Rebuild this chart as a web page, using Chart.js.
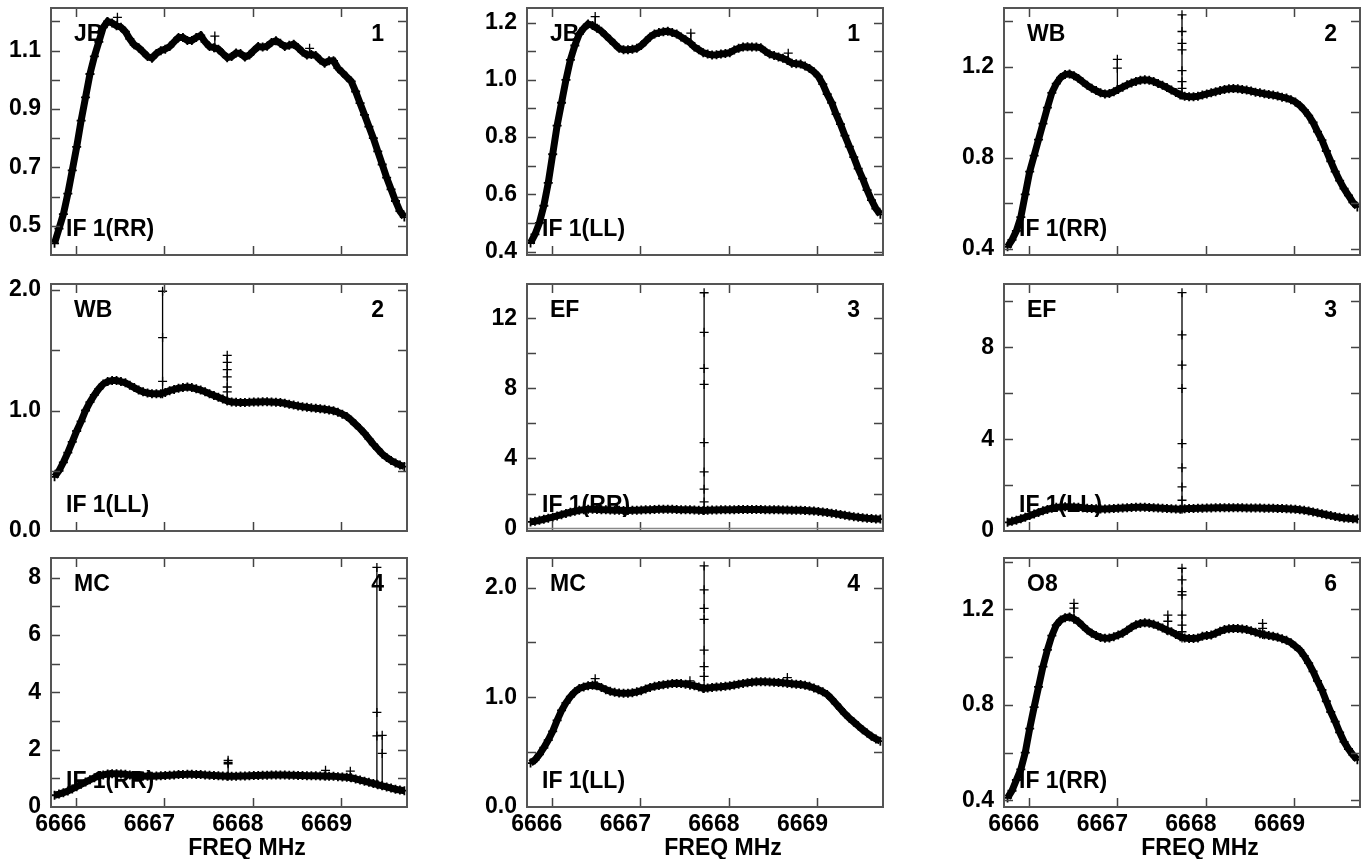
<!DOCTYPE html>
<html lang="en">
<head>
<meta charset="UTF-8" />
<title>POSSM bandpass plots</title>
<script src="https://cdn.jsdelivr.net/npm/chart.js@4.4.1/dist/chart.umd.min.js"></script>
<style>
  body { margin: 0; background: #fff; overflow: hidden; width: 1372px; height: 862px; position: relative; }
  canvas { position: absolute; }
</style>
</head>
<body>
<script>
// channel frequencies, MHz
const freqs = [
  6665.76, 6665.81, 6665.86, 6665.91, 6665.96,
  6666.01, 6666.06, 6666.11, 6666.16, 6666.21, 6666.26, 6666.31, 6666.36, 6666.41, 6666.46,
  6666.51, 6666.56, 6666.61, 6666.66, 6666.71, 6666.76, 6666.81, 6666.86, 6666.91, 6666.96,
  6667.01, 6667.06, 6667.11, 6667.16, 6667.21, 6667.26, 6667.31, 6667.36, 6667.41, 6667.46,
  6667.51, 6667.56, 6667.61, 6667.66, 6667.71, 6667.76, 6667.81, 6667.86, 6667.91, 6667.96,
  6668.01, 6668.06, 6668.11, 6668.16, 6668.21, 6668.26, 6668.31, 6668.36, 6668.41, 6668.46,
  6668.51, 6668.56, 6668.61, 6668.66, 6668.71, 6668.76, 6668.81, 6668.86, 6668.91, 6668.96,
  6669.01, 6669.06, 6669.11, 6669.16, 6669.21, 6669.26, 6669.31, 6669.36, 6669.41, 6669.46,
  6669.51, 6669.56, 6669.61, 6669.66, 6669.71
];

// bandpass amplitude per channel
const jbRR = [
  0.44, 0.49, 0.54, 0.61, 0.69,
  0.77, 0.86, 0.94, 1.02, 1.08, 1.13, 1.18, 1.20, 1.195, 1.185, 1.18, 1.165, 1.14, 1.12, 1.11, 1.095, 1.08, 1.074, 1.09, 1.10,
  1.105, 1.114, 1.13, 1.145, 1.145, 1.135, 1.135, 1.145, 1.152, 1.13, 1.114, 1.11, 1.105, 1.09, 1.076, 1.08, 1.092, 1.09, 1.078, 1.085,
  1.10, 1.114, 1.112, 1.115, 1.128, 1.134, 1.125, 1.114, 1.118, 1.122, 1.11, 1.095, 1.085, 1.087, 1.083, 1.068, 1.057, 1.065, 1.065, 1.04,
  1.025, 1.01, 0.995, 0.96, 0.92, 0.88, 0.84, 0.80, 0.755, 0.71, 0.665, 0.625, 0.585, 0.55, 0.53
];
const jbLL = [
  0.43, 0.46, 0.50, 0.56, 0.64,
  0.74, 0.84, 0.92, 1.00, 1.07, 1.12, 1.16, 1.18, 1.195, 1.19, 1.18, 1.17, 1.155, 1.14, 1.125, 1.11, 1.105, 1.105, 1.107, 1.11,
  1.12, 1.135, 1.15, 1.16, 1.165, 1.168, 1.17, 1.165, 1.16, 1.15, 1.14, 1.13, 1.115, 1.105, 1.095, 1.09, 1.087, 1.088, 1.09, 1.092,
  1.095, 1.104, 1.11, 1.115, 1.116, 1.115, 1.115, 1.112, 1.10, 1.09, 1.085, 1.08, 1.075, 1.068, 1.058, 1.056, 1.055, 1.048, 1.04, 1.028,
  1.012, 0.985, 0.95, 0.92, 0.88, 0.845, 0.805, 0.767, 0.73, 0.69, 0.655, 0.615, 0.58, 0.55, 0.53
];
const wbRR = [
  0.41, 0.44, 0.48, 0.54, 0.64,
  0.74, 0.81, 0.88, 0.95, 1.02, 1.085, 1.125, 1.152, 1.165, 1.168, 1.16, 1.148, 1.133, 1.118, 1.105, 1.095, 1.085, 1.08, 1.082, 1.09,
  1.10, 1.11, 1.12, 1.128, 1.135, 1.14, 1.142, 1.14, 1.135, 1.126, 1.118, 1.108, 1.097, 1.087, 1.076, 1.07, 1.068, 1.068, 1.07, 1.075,
  1.08, 1.085, 1.09, 1.095, 1.10, 1.103, 1.104, 1.103, 1.10, 1.097, 1.093, 1.088, 1.085, 1.081, 1.078, 1.075, 1.071, 1.066, 1.062, 1.055,
  1.045, 1.03, 1.01, 0.985, 0.955, 0.915, 0.878, 0.83, 0.785, 0.74, 0.70, 0.665, 0.635, 0.605, 0.585
];
const wbLL = [
  0.45, 0.50, 0.57, 0.65, 0.74,
  0.83, 0.91, 1.00, 1.07, 1.13, 1.18, 1.22, 1.24, 1.25, 1.25, 1.24, 1.23, 1.21, 1.19, 1.17, 1.155, 1.145, 1.14, 1.14, 1.14,
  1.15, 1.165, 1.175, 1.185, 1.19, 1.195, 1.19, 1.18, 1.17, 1.155, 1.14, 1.125, 1.11, 1.095, 1.08, 1.07, 1.068, 1.067, 1.067, 1.068,
  1.07, 1.071, 1.072, 1.072, 1.07, 1.068, 1.066, 1.06, 1.052, 1.045, 1.038, 1.032, 1.027, 1.022, 1.018, 1.014, 1.01, 1.005, 0.998, 0.985,
  0.97, 0.95, 0.92, 0.885, 0.85, 0.81, 0.765, 0.72, 0.68, 0.64, 0.61, 0.585, 0.565, 0.548, 0.535
];
const efRR = [
  0.38, 0.42, 0.47, 0.53, 0.59,
  0.65, 0.72, 0.79, 0.86, 0.93, 0.99, 1.04, 1.08, 1.10, 1.10, 1.09, 1.08, 1.07, 1.06, 1.05, 1.04, 1.03, 1.03, 1.04, 1.05,
  1.06, 1.07, 1.08, 1.09, 1.10, 1.10, 1.10, 1.10, 1.09, 1.08, 1.08, 1.07, 1.06, 1.05, 1.03, 1.05, 1.06, 1.06, 1.07, 1.07,
  1.08, 1.08, 1.09, 1.09, 1.09, 1.09, 1.09, 1.09, 1.08, 1.08, 1.07, 1.07, 1.06, 1.06, 1.05, 1.05, 1.04, 1.03, 1.02, 1.00,
  0.98, 0.95, 0.92, 0.88, 0.84, 0.80, 0.76, 0.72, 0.68, 0.65, 0.62, 0.59, 0.57, 0.55, 0.54
];
const efLL = [
  0.38, 0.42, 0.47, 0.53, 0.60,
  0.67, 0.74, 0.81, 0.88, 0.94, 0.99, 1.03, 1.05, 1.06, 1.06, 1.05, 1.03, 1.01, 0.99, 0.98, 0.97, 0.96, 0.96, 0.97, 0.98,
  0.99, 1.00, 1.01, 1.02, 1.03, 1.03, 1.03, 1.02, 1.01, 1.00, 0.99, 0.98, 0.97, 0.96, 0.95, 0.97, 0.98, 0.98, 0.99, 0.99,
  1.00, 1.00, 1.01, 1.01, 1.01, 1.01, 1.01, 1.01, 1.01, 1.00, 1.00, 1.00, 1.00, 0.99, 0.99, 0.99, 0.98, 0.98, 0.97, 0.96,
  0.95, 0.93, 0.90, 0.87, 0.83, 0.79, 0.75, 0.71, 0.67, 0.63, 0.60, 0.57, 0.55, 0.53, 0.52
];
const mcRR = [
  0.41, 0.45, 0.50, 0.56, 0.63,
  0.71, 0.79, 0.87, 0.95, 1.02, 1.08, 1.12, 1.15, 1.16, 1.16, 1.15, 1.14, 1.12, 1.10, 1.09, 1.08, 1.07, 1.07, 1.08, 1.09,
  1.10, 1.11, 1.12, 1.13, 1.13, 1.14, 1.14, 1.13, 1.13, 1.12, 1.11, 1.10, 1.09, 1.08, 1.07, 1.07, 1.07, 1.08, 1.08, 1.09,
  1.10, 1.10, 1.11, 1.11, 1.12, 1.12, 1.12, 1.12, 1.11, 1.11, 1.10, 1.10, 1.09, 1.09, 1.09, 1.08, 1.08, 1.07, 1.07, 1.06,
  1.05, 1.04, 1.02, 0.98, 0.94, 0.90, 0.86, 0.82, 0.78, 0.74, 0.70, 0.66, 0.62, 0.59, 0.57
];
const mcLL = [
  0.40, 0.43, 0.48, 0.54, 0.61,
  0.69, 0.79, 0.88, 0.95, 1.005, 1.05, 1.08, 1.095, 1.105, 1.11, 1.105, 1.09, 1.07, 1.055, 1.045, 1.04, 1.036, 1.037, 1.042, 1.05,
  1.06, 1.075, 1.09, 1.10, 1.108, 1.115, 1.12, 1.125, 1.127, 1.125, 1.12, 1.115, 1.105, 1.095, 1.08, 1.085, 1.09, 1.093, 1.096, 1.10,
  1.105, 1.112, 1.12, 1.127, 1.133, 1.138, 1.141, 1.142, 1.142, 1.14, 1.138, 1.135, 1.132, 1.128, 1.124, 1.12, 1.116, 1.11, 1.10, 1.085,
  1.07, 1.05, 1.025, 0.985, 0.94, 0.895, 0.85, 0.81, 0.775, 0.74, 0.705, 0.675, 0.645, 0.62, 0.60
];
const o8RR = [
  0.41, 0.44, 0.485, 0.53, 0.60,
  0.70, 0.79, 0.875, 0.96, 1.03, 1.09, 1.134, 1.155, 1.165, 1.168, 1.16, 1.148, 1.13, 1.113, 1.10, 1.09, 1.082, 1.079, 1.08, 1.085,
  1.092, 1.10, 1.112, 1.125, 1.135, 1.141, 1.144, 1.142, 1.137, 1.13, 1.122, 1.112, 1.106, 1.095, 1.085, 1.08, 1.078, 1.078, 1.08, 1.087,
  1.09, 1.092, 1.10, 1.108, 1.115, 1.119, 1.12, 1.12, 1.118, 1.115, 1.11, 1.104, 1.098, 1.094, 1.09, 1.087, 1.083, 1.077, 1.07, 1.06,
  1.045, 1.03, 1.005, 0.975, 0.94, 0.90, 0.862, 0.815, 0.77, 0.73, 0.685, 0.645, 0.615, 0.59, 0.57
];

// spikes: [freq, amplitudes plotted at that channel...]
const jbRRSpikes = [[6666.47, 1.19, 1.214], [6667.57, 1.11, 1.15], [6668.64, 1.09, 1.108]];
const jbLLSpikes = [[6666.49, 1.19, 1.221], [6667.57, 1.13, 1.163], [6668.67, 1.068, 1.093]];
const wbRRSpikes = [[6667.00, 1.10, 1.232, 1.193, 1.10], [6667.73, 1.074, 1.427, 1.354, 1.302, 1.273, 1.182, 1.134, 1.105]];
const wbLLSpikes = [[6666.98, 1.14, 1.99, 1.605, 1.242], [6667.71, 1.08, 1.458, 1.40, 1.34, 1.28, 1.195, 1.155]];
const efRRSpikes = [[6667.72, 1.03, 13.46, 11.2, 9.14, 8.23, 4.91, 3.23, 2.25, 1.52]];
const efLLSpikes = [[6667.73, 0.95, 10.38, 8.54, 7.23, 6.21, 3.81, 2.75, 1.92, 1.34]];
const mcRRSpikes = [[6667.72, 1.07, 1.63, 1.56, 1.51], [6668.82, 1.08, 1.28], [6669.10, 1.03, 1.25],
                    [6669.40, 0.80, 8.36, 3.30, 2.48], [6669.46, 0.75, 2.5, 1.87]];
const mcLLSpikes = [[6667.72, 1.08, 2.198, 1.98, 1.81, 1.71, 1.43, 1.28, 1.19], [6666.49, 1.11, 1.17],
                    [6667.56, 1.11, 1.15], [6668.66, 1.128, 1.18]];
const o8RRSpikes = [[6666.51, 1.16, 1.225, 1.205], [6667.57, 1.11, 1.176, 1.15],
                    [6667.73, 1.08, 1.372, 1.323, 1.274, 1.26, 1.176, 1.134, 1.106], [6668.64, 1.095, 1.141, 1.12]];

// panel labels, in reading order
const antennas = ['JB', 'JB', 'WB', 'WB', 'EF', 'EF', 'MC', 'MC', 'O8'];
const antNums = ['1', '1', '2', '2', '3', '3', '4', '4', '6'];
const pols = ['RR', 'LL', 'RR', 'LL', 'RR', 'LL', 'RR', 'LL', 'RR'];

// axes
const xRange = [6665.72, 6669.74];
const xTicks = [6666, 6667, 6668, 6669];
const yRanges = [[0.40, 1.246], [0.388, 1.251], [0.374, 1.457], [0, 2.05], [-0.14, 13.96],
                 [0, 10.76], [0, 8.69], [0, 2.27], [0.372, 1.415]];
const yTicks = [[0.5, 0.7, 0.9, 1.1], [0.4, 0.6, 0.8, 1.0, 1.2], [0.4, 0.8, 1.2], [0, 1, 2], [0, 4, 8, 12],
                [0, 4, 8], [0, 2, 4, 6, 8], [0, 1, 2], [0.4, 0.8, 1.2]];
const yMinor = [[0.6, 0.8, 1.0, 1.2], [0.5, 0.7, 0.9, 1.1], [0.6, 1.0, 1.4], [0.5, 1.5], [2, 6, 10],
                [2, 6, 10], [1, 3, 5, 7], [0.5, 1.5], [0.6, 1.0, 1.4]];
const yDecimals = [1, 1, 1, 1, 0, 0, 0, 1, 1];

const series = [jbRR, jbLL, wbRR, wbLL, efRR, efLL, mcRR, mcLL, o8RR];
const spikes = [jbRRSpikes, jbLLSpikes, wbRRSpikes, wbLLSpikes, efRRSpikes, efLLSpikes, mcRRSpikes, mcLLSpikes, o8RRSpikes];

// layout
const colLeft = [51, 527, 1004];
const rowTop = [8, 284, 558];
const rowH = [247, 247, 249];
const plotW = 356;
const AXW = 51, PADT = 12, PADR = 8;
const FONT = "'Liberation Sans', Arial, sans-serif";
const FSIZE = 23;

const framePlugin = {
  id: 'frame',
  beforeDatasetsDraw(chart) {
    const o = chart.options.plugins.frame;
    const { ctx, chartArea: a } = chart;
    ctx.save();
    ctx.fillStyle = '#000';
    ctx.font = 'bold ' + FSIZE + 'px ' + FONT;
    ctx.textBaseline = 'alphabetic';
    ctx.textAlign = 'left';
    ctx.fillText(o.ant, a.left + 23, a.top + 33);
    ctx.fillText('IF 1(' + o.pol + ')', a.left + 15, a.bottom - 19);
    ctx.textAlign = 'right';
    ctx.fillText(o.num, a.right - 23, a.top + 33);
    ctx.restore();
  },
  afterDraw(chart) {
    const o = chart.options.plugins.frame;
    const { ctx, chartArea: a, scales } = chart;
    const x = scales.x, y = scales.y;
    ctx.save();
    ctx.strokeStyle = '#444';
    ctx.lineWidth = 1.5;
    ctx.beginPath();
    xTicks.forEach(v => {
      const px = Math.round(x.getPixelForValue(v)) + 0.5;
      ctx.moveTo(px, a.top); ctx.lineTo(px, a.top + 9);
      ctx.moveTo(px, a.bottom); ctx.lineTo(px, a.bottom - 9);
    });
    o.yTicks.concat(o.yMinor).forEach(v => {
      const py = Math.round(y.getPixelForValue(v)) + 0.5;
      if (py < a.top + 2 || py > a.bottom - 2) return;
      ctx.moveTo(a.left, py); ctx.lineTo(a.left + 9, py);
      ctx.moveTo(a.right, py); ctx.lineTo(a.right - 9, py);
    });
    ctx.stroke();
    if (y.min < 0) {
      const p0 = y.getPixelForValue(0);
      ctx.strokeStyle = '#888';
      ctx.lineWidth = 1.5;
      ctx.beginPath(); ctx.moveTo(a.left, p0); ctx.lineTo(a.right, p0); ctx.stroke();
    }
    ctx.strokeStyle = '#555';
    ctx.lineWidth = 2;
    ctx.strokeRect(a.left, a.top, a.right - a.left, a.bottom - a.top);
    if (o.bottomRow) {
      ctx.fillStyle = '#000';
      ctx.font = 'bold ' + FSIZE + 'px ' + FONT;
      ctx.textAlign = 'center';
      ctx.textBaseline = 'alphabetic';
      ctx.fillText('FREQ MHz', (a.left + a.right) / 2 + 18, a.bottom + 48);
    }
    ctx.restore();
  }
};

for (let i = 0; i < 9; i++) {
  const row = Math.floor(i / 3), col = i % 3;
  const bottomRow = row === 2;
  const xAxisH = bottomRow ? 52 : 0;
  const padB = bottomRow ? 0 : 12;
  const cv = document.createElement('canvas');
  cv.width = AXW + plotW + PADR;
  cv.height = PADT + rowH[row] + xAxisH + padB;
  cv.style.left = (colLeft[col] - AXW) + 'px';
  cv.style.top = (rowTop[row] - PADT) + 'px';
  document.body.appendChild(cv);

  const vals = series[i];
  const datasets = [{
    data: freqs.map((f, k) => ({ x: f, y: vals[k] })),
    borderColor: '#000',
    borderWidth: 7,
    pointStyle: 'cross',
    pointRadius: 4.5,
    pointBorderWidth: 1.8,
    pointBorderColor: '#000',
    tension: 0
  }];
  spikes[i].forEach(s => {
    datasets.push({
      data: s.slice(1).map(v => ({ x: s[0], y: v })),
      borderColor: '#000',
      borderWidth: 1.3,
      pointStyle: 'cross',
      pointRadius: 4.5,
      pointBorderWidth: 1.3,
      pointBorderColor: '#000'
    });
  });

  new Chart(cv, {
    type: 'line',
    data: { datasets },
    options: {
      responsive: false,
      animation: false,
      devicePixelRatio: 1,
      layout: { padding: { top: PADT, right: PADR, bottom: padB, left: 0 } },
      plugins: {
        legend: { display: false },
        tooltip: { enabled: false },
        frame: { ant: antennas[i], num: antNums[i], pol: pols[i], yTicks: yTicks[i], yMinor: yMinor[i], bottomRow }
      },
      scales: {
        x: {
          type: 'linear',
          min: xRange[0], max: xRange[1],
          grid: { display: false, drawTicks: false },
          border: { display: false },
          afterBuildTicks: s => { s.ticks = xTicks.map(v => ({ value: v })); },
          afterFit: s => { s.height = xAxisH; s.paddingLeft = 0; s.paddingRight = 0; },
          ticks: {
            display: bottomRow,
            autoSkip: false,
            maxRotation: 0,
            padding: 4,
            labelOffset: -15,
            color: '#000',
            font: { family: FONT, size: FSIZE, weight: 'bold' },
            callback: v => String(v)
          }
        },
        y: {
          min: yRanges[i][0], max: yRanges[i][1],
          grid: { display: false, drawTicks: false },
          border: { display: false },
          afterBuildTicks: s => { s.ticks = yTicks[i].map(v => ({ value: v })); },
          afterFit: s => { s.width = AXW; s.paddingTop = 0; s.paddingBottom = 0; },
          ticks: {
            autoSkip: false,
            padding: 10,
            color: '#000',
            font: { family: FONT, size: FSIZE, weight: 'bold' },
            callback: v => v.toFixed(yDecimals[i])
          }
        }
      }
    },
    plugins: [framePlugin]
  });
}
</script>
</body>
</html>
